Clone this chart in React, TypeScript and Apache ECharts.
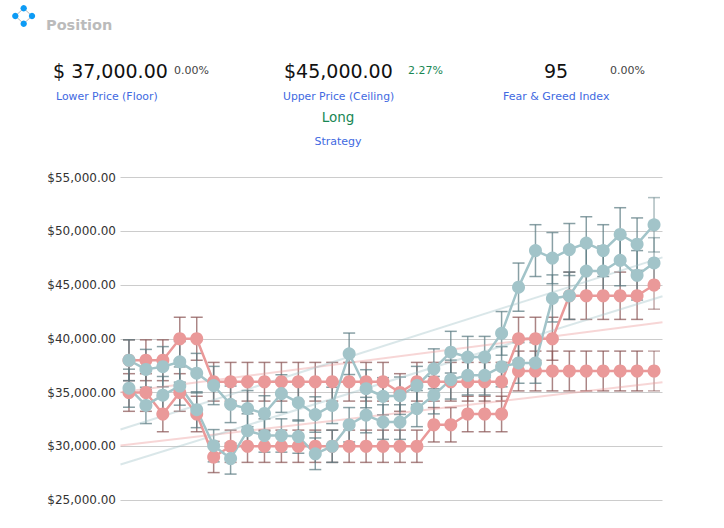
import React, { useEffect, useRef } from "react";
import * as echarts from "echarts";

const redUpper = [38000,38000,38000,40000,40000,36000,36000,36000,36000,36000,36000,36000,36000,36000,36000,36000,35000,36000,36000,36000,36000,36000,36000,40000,40000,40000,44000,44000,44000,44000,44000,45000];
const redLower = [35000,35000,33000,35000,33000,29000,30000,30000,30000,30000,30000,30000,30000,30000,30000,30000,30000,30000,32000,32000,33000,33000,33000,37000,37000,37000,37000,37000,37000,37000,37000,37000];
const blueUpper = [38000,37150,37400,37850,36800,35650,33900,33500,33050,34900,34050,32950,33800,38600,35350,34650,34700,35650,37200,38750,38300,38300,40500,44800,48200,47500,48300,48900,48200,49700,48800,50600];
const blueLower = [35400,33800,34750,35600,33400,30050,28850,31450,31000,31000,30900,29300,30000,32000,32900,32250,32250,33500,34750,36200,36600,36600,37400,37750,37750,43750,44000,46300,46300,47300,45900,47050];

const redUpperErr = [1900,1900,1900,2000,2000,1800,1800,1800,1800,1800,1800,1800,1800,1800,1800,1800,1750,1800,1800,1800,1800,1800,1800,2000,2000,2000,2200,2200,2200,2200,2200,2250];
const redLowerErr = [1750,1750,1650,1750,1650,1450,1500,1500,1500,1500,1500,1500,1500,1500,1500,1500,1500,1500,1600,1600,1650,1650,1650,1850,1850,1850,1850,1850,1850,1850,1850,1850];
const blueUpperErr = [1900,1860,1870,1890,1840,1780,1700,1680,1650,1750,1700,1650,1690,1930,1770,1730,1740,1780,1860,1940,1920,1920,2030,2240,2410,2380,2420,2450,2410,2490,2440,2530];
const blueLowerErr = [1770,1690,1740,1780,1670,1500,1440,1570,1550,1550,1550,1470,1500,1600,1650,1610,1610,1680,1740,1810,1830,1830,1870,1890,1890,2190,2200,2320,2320,2370,2300,2350];

const trendRedUpper = [35030, 41530];
const trendRedLower = [30070, 35960];
const trendBlueUpper = [31560, 47570];
const trendBlueLower = [28300, 43950];
const trendSpan = [-0.5, 31.5];

const FONT = "DejaVu Sans";
const RED = "#ea9999";
const BLUE = "#a2c4c9";
const RED_BAR = "#8a5656";
const BLUE_BAR = "#5c7c82";

const errorSeries = (vals: number[], errs: number[], color: string) => ({
  type: "custom",
  silent: true,
  clip: false,
  data: vals.map((v, i) => [i, v, errs[i]]),
  encode: { x: 0, y: 1 },
  renderItem: (_: any, api: any) => {
    const i = api.value(0);
    const v = api.value(1);
    const e = api.value(2);
    const top = api.coord([i, v + e]);
    const bot = api.coord([i, v - e]);
    const style = { stroke: color, lineWidth: 1.5, opacity: i === vals.length - 1 ? 0.5 : 0.72, fill: "none" };
    const hw = 6;
    return {
      type: "group",
      children: [
        { type: "line", shape: { x1: top[0], y1: top[1], x2: bot[0], y2: bot[1] }, style },
        { type: "line", shape: { x1: top[0] - hw, y1: top[1], x2: top[0] + hw, y2: top[1] }, style },
        { type: "line", shape: { x1: bot[0] - hw, y1: bot[1], x2: bot[0] + hw, y2: bot[1] }, style },
      ],
    };
  },
});

const lineSeries = (vals: number[], color: string) => ({
  type: "line",
  silent: true,
  data: vals.map((v, i) => [i, v]),
  symbol: "circle",
  symbolSize: 13,
  lineStyle: { color, width: 2.5 },
  itemStyle: { color, opacity: 1 },
});

const trendSeries = (ends: number[], color: string) => ({
  type: "line",
  silent: true,
  data: ends.map((v, i) => [trendSpan[i], v]),
  symbol: "none",
  lineStyle: { color, width: 2, opacity: 0.4 },
});

const text = (t: string, x: number, y: number, size: number, fill: string, align = "left", weight = "normal") => ({
  type: "text",
  x,
  y,
  silent: true,
  style: { text: t, fontFamily: FONT, fontSize: size, fontWeight: weight, fill, align, verticalAlign: "middle" },
});

const LABEL = "#4169e1";
const GREEN = "#198754";

export default function App() {
  const ref = useRef<HTMLDivElement>(null);
  useEffect(() => {
    document.body.style.margin = "0";
    const chart = echarts.init(ref.current!, undefined, { renderer: "svg" });
    const dot = (cx: number, cy: number) => ({ type: "circle", shape: { cx, cy, r: 3.2 }, style: { fill: "#0d9bf5" }, silent: true });
    const seg = (x1: number, y1: number, x2: number, y2: number) => ({
      type: "line", shape: { x1, y1, x2, y2 }, style: { stroke: "#b8b8b8", lineWidth: 1 }, silent: true,
    });
    chart.setOption({
      animation: false,
      grid: { left: 120.5, width: 542, top: 177.5, bottom: 28, containLabel: false },
      xAxis: { type: "value", min: -0.5, max: 31.5, show: false },
      yAxis: {
        type: "value",
        min: 25000,
        max: 55000,
        interval: 5000,
        axisLine: { show: false },
        axisTick: { show: false },
        axisLabel: {
          margin: 4.5,
          fontFamily: FONT,
          fontSize: 12,
          color: "#333333",
          formatter: (v: number) => "$" + v.toLocaleString("en-US", { minimumFractionDigits: 2, maximumFractionDigits: 2 }),
        },
        splitLine: { lineStyle: { color: "#cccccc", width: 1 } },
      },
      graphic: [
        seg(23.7, 8.3, 15.3, 16), seg(23.7, 8.3, 32, 16), seg(15.3, 16, 23.7, 23.7), seg(32, 16, 23.7, 23.7),
        dot(23.7, 8.3), dot(15.3, 16), dot(32, 16), dot(23.7, 23.7),
        text("Position", 46, 25, 14.5, "#bbbbbb", "left", "bold"),
        text("$ 37,000.00", 53, 71, 19, "#111111"),
        text("0.00%", 174, 70, 11, "#444444"),
        text("Lower Price (Floor)", 56, 96, 10.9, LABEL),
        text("$45,000.00", 284, 71, 19, "#111111"),
        text("2.27%", 408, 70, 11, GREEN),
        text("Upper Price (Ceiling)", 283, 96, 10.8, LABEL),
        text("Long", 338, 117, 13.5, GREEN, "center"),
        text("Strategy", 338, 141, 11, LABEL, "center"),
        text("95", 556, 71, 19, "#111111", "center"),
        text("0.00%", 610, 70, 11, "#444444"),
        text("Fear & Greed Index", 503, 96, 11, LABEL),
      ],
      series: [
        trendSeries(trendRedUpper, RED),
        trendSeries(trendRedLower, RED),
        trendSeries(trendBlueUpper, BLUE),
        trendSeries(trendBlueLower, BLUE),
        errorSeries(redUpper, redUpperErr, RED_BAR),
        errorSeries(redLower, redLowerErr, RED_BAR),
        errorSeries(blueUpper, blueUpperErr, BLUE_BAR),
        errorSeries(blueLower, blueLowerErr, BLUE_BAR),
        lineSeries(redUpper, RED),
        lineSeries(redLower, RED),
        lineSeries(blueUpper, BLUE),
        lineSeries(blueLower, BLUE),
      ],
    });
    return () => chart.dispose();
  }, []);
  return <div ref={ref} style={{ width: 724, height: 528 }} />;
}
